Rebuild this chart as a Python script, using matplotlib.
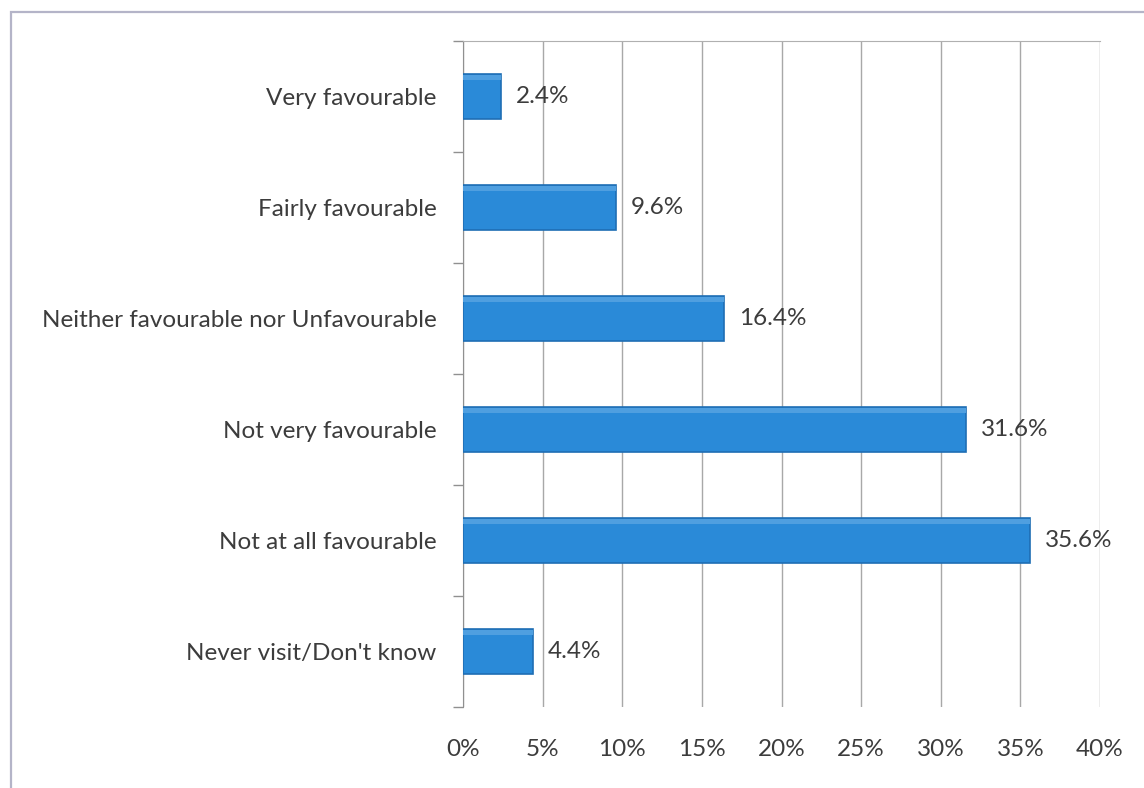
import matplotlib.pyplot as plt
from matplotlib.patches import Rectangle
from matplotlib.ticker import FixedLocator

# Survey categories (top to bottom) and their shares in percent
categories = ["Very favourable", "Fairly favourable",
              "Neither favourable nor Unfavourable", "Not very favourable",
              "Not at all favourable", "Never visit/Don't know"]
values = [2.4, 9.6, 16.4, 31.6, 35.6, 4.4]
xticks = [0, 5, 10, 15, 20, 25, 30, 35, 40]

plt.rcParams['font.family'] = ['Lato', 'DejaVu Sans']
FS = 17.5
TXT = '#3c3c3c'

W, H = 1144, 788
fig = plt.figure(figsize=(W / 100, H / 100), dpi=100)

# light outer frame of the chart area
fig.patches.append(Rectangle((11 / W, -0.05), 1.2, 1 - 12 / H + 0.05,
                             transform=fig.transFigure, fill=False,
                             edgecolor='#b4b4c8', linewidth=1.6))

left, right, top, bottom = 463, 1100, 41, 707
ax = fig.add_axes([left / W, 1 - bottom / H, (right - left) / W, (bottom - top) / H])

ypos = list(range(len(categories)))
ax.barh(ypos, values, height=0.41, color='#2a8ad8', edgecolor='#1f6eb4',
        linewidth=1.2, zorder=3)
# faint top highlight to give the bars a slight bevel
ax.barh([y - 0.17 for y in ypos], values, height=0.04, color='#4f9fe0',
        linewidth=0, zorder=4)

for y, v in zip(ypos, values):
    ax.text(v + 0.95, y, f"{v:.1f}%", va='center', ha='left',
            fontsize=FS, color=TXT, zorder=5)

ax.set_xlim(0, 40)
ax.set_ylim(len(categories) - 0.5, -0.5)
ax.set_xticks(xticks)
ax.set_xticklabels([f"{t}%" for t in xticks], fontsize=FS, color=TXT)
ax.set_yticks(ypos)
ax.set_yticklabels(categories, fontsize=FS, color=TXT)
ax.yaxis.set_minor_locator(FixedLocator([y - 0.5 for y in range(len(categories) + 1)]))

ax.tick_params(axis='x', length=0, pad=23)
ax.tick_params(axis='y', which='major', length=0, pad=19)
ax.tick_params(axis='y', which='minor', length=7, color='#909090', width=1)

ax.grid(axis='x', color='#a8a8a8', linewidth=1, zorder=0)
for side in ['right', 'bottom']:
    ax.spines[side].set_visible(False)
ax.spines['left'].set_color('#909090')
ax.spines['top'].set_color('#b0b0b0')

fig.savefig('out.png', dpi=100, facecolor='white')
